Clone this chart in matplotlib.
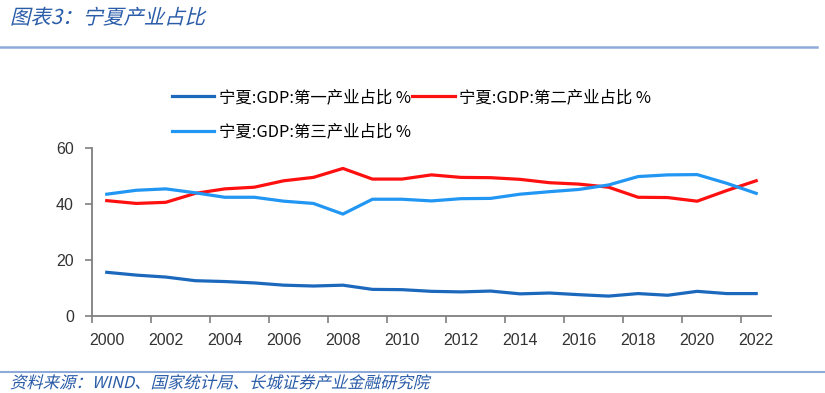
import numpy as np
import matplotlib
matplotlib.use("Agg")
import matplotlib.pyplot as plt
from matplotlib.lines import Line2D
from matplotlib.patheffects import AbstractPathEffect
from matplotlib.transforms import Affine2D

plt.rcParams['font.family'] = ['Noto Sans CJK SC', 'DejaVu Sans']

years = np.arange(2000, 2023)
primary = [15.6, 14.6, 13.9, 12.6, 12.3, 11.8, 11.0, 10.7, 11.0, 9.5, 9.4, 8.8,
           8.6, 8.9, 7.9, 8.2, 7.6, 7.1, 8.0, 7.4, 8.8, 8.0, 8.0]
secondary = [41.2, 40.2, 40.6, 43.8, 45.4, 46.0, 48.3, 49.5, 52.7, 48.9, 48.9, 50.4,
             49.5, 49.4, 48.8, 47.6, 47.1, 46.0, 42.4, 42.3, 41.0, 44.8, 48.3]
tertiary = [43.5, 44.9, 45.4, 44.0, 42.4, 42.4, 41.0, 40.2, 36.4, 41.7, 41.7, 41.1,
            41.9, 42.0, 43.5, 44.4, 45.2, 46.8, 49.8, 50.4, 50.5, 47.4, 43.8]
labels = ["宁夏:GDP:第一产业占比 %", "宁夏:GDP:第二产业占比 %", "宁夏:GDP:第三产业占比 %"]
colors = ["#1b68bd", "#ff1010", "#2196f3"]
title = "图表3：宁夏产业占比"
source = "资料来源：WIND、国家统计局、长城证券产业金融研究院"


class Skew(AbstractPathEffect):
    # fake italic for CJK fonts
    def __init__(self, deg=12):
        super().__init__()
        self.deg = deg

    def draw_path(self, renderer, gc, tpath, affine, rgbFace=None):
        renderer.draw_path(gc, tpath, Affine2D().skew_deg(self.deg, 0) + affine, rgbFace)


fig = plt.figure(figsize=(8.25, 3.93), dpi=100)
ax = fig.add_axes([0.1115, 0.196, 0.823, 0.4274])

for vals, c in zip([primary, secondary, tertiary], colors):
    ax.plot(years, vals, color=c, lw=2.3, solid_joinstyle='round')

ax.set_xlim(1999.5, 2022.5)
ax.set_ylim(0, 60)
ax.set_yticks([0, 20, 40, 60])
ax.set_xticks(np.arange(1999.5, 2022.6, 2))
ax.set_xticklabels([])
ax.set_xticks(years[::2], minor=True)
ax.set_xticklabels([str(y) for y in years[::2]], minor=True)
ax.tick_params(axis='x', which='minor', length=0, pad=12)
ax.tick_params(axis='x', which='major', length=5, width=1.2, color='#7f7f7f')
ax.tick_params(axis='y', length=5, width=1.2, color='#7f7f7f', pad=8)
for lab in ax.get_xticklabels(minor=True) + ax.get_yticklabels():
    lab.set_fontfamily('Liberation Sans')
    lab.set_fontsize(11.5)
    lab.set_color('#333333')
for s in ['top', 'right']:
    ax.spines[s].set_visible(False)
for s in ['left', 'bottom']:
    ax.spines[s].set_color('#7f7f7f')
    ax.spines[s].set_linewidth(1.3)

handles = [Line2D([], [], color=c, lw=2.3) for c in colors]
order = [0, 2, 1]
fig.legend([handles[i] for i in order], [labels[i] for i in order], ncol=2,
           loc='upper left', bbox_to_anchor=(0.2, 0.79), frameon=False,
           fontsize=11.8, handlelength=2.6, handletextpad=0.3, columnspacing=0.05,
           labelspacing=1.05, borderaxespad=0)

fig.text(0.012, 0.953, title, fontsize=14.7, color='#2a5ca8', va='center', ha='left',
         path_effects=[Skew(14)])
fig.add_artist(Line2D([0, 0.99], [0.88, 0.88], transform=fig.transFigure,
                      color='#8eaad8', lw=1.8))
fig.add_artist(Line2D([0, 1.0], [0.053, 0.053], transform=fig.transFigure,
                      color='#8eaad8', lw=1.5))
fig.text(0.012, 0.024, source, fontsize=11.8, color='#2a5ca8', va='center', ha='left',
         path_effects=[Skew(14)])

fig.savefig("out.png", dpi=100)
